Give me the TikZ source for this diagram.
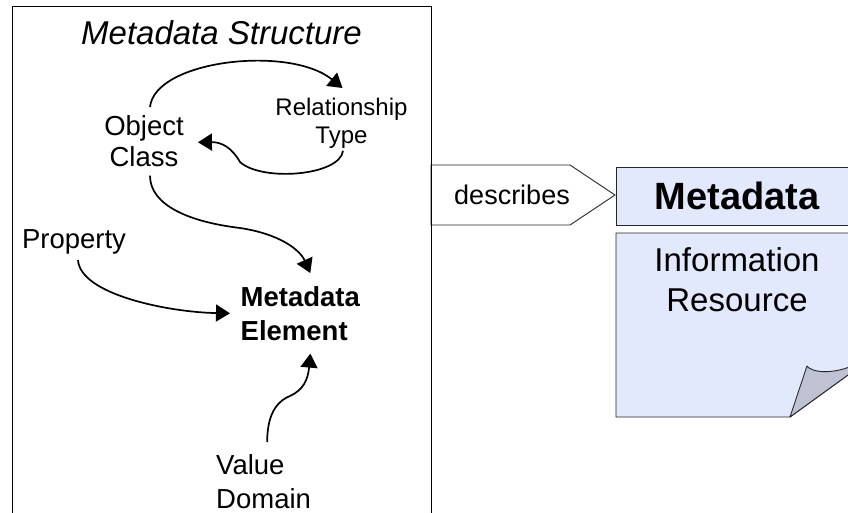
\documentclass[tikz,border=0pt]{standalone}
\usepackage{fontspec}
\setmainfont{Liberation Sans}
\usetikzlibrary{arrows.meta}
\definecolor{paper}{RGB}{227,233,252}
\definecolor{curl}{RGB}{190,194,210}
\begin{document}
\begin{tikzpicture}[x=1pt,y=-1pt,
  lbl/.style={inner sep=0pt, font=\fontsize{27.5}{31}\selectfont},
  link/.style={line width=1.7pt, -{Triangle[length=14pt,width=17pt]}},
  thin/.style={line width=0.9pt, draw=black!85}
]
\useasboundingbox (0,0) rectangle (848,513);
\clip (0,0) rectangle (848,513);

% "describes" arrow shape leaving the structure panel
\draw[thin, fill=white] (431,165) -- (570,165) -- (615,195) -- (570,225) -- (431,225) -- cycle;

% structure panel, open at the bottom
\node[draw, line width=1.2pt, minimum width=419, minimum height=540, inner sep=0, anchor=north west] (frame) at (12,6) {};

\node[lbl, anchor=base, font=\fontsize{33}{40}\selectfont\itshape] (title) at (221.5,45) {Metadata Structure};
\node[lbl, align=center, anchor=north] (oc) at (144,115) {Object\\Class};
\node[lbl, align=center, anchor=north, font=\fontsize{24}{28}\selectfont] (rt) at (341.5,98) {Relationship\\Type};
\node[lbl, anchor=base] (pr) at (74,248) {Property};
\node[lbl, align=left, anchor=north west, font=\fontsize{27.5}{34}\selectfont\bfseries] (me) at (240.5,286.5) {Metadata\\Element};
\node[lbl, align=left, anchor=north west, font=\fontsize{27.5}{34}\selectfont] (vd) at (216,454) {Value\\Domain};

% relations inside the structure
\draw[link] ([shift={(6,-8)}]oc.north) .. controls +(5,-47) and +(-53,-43) .. ([shift={(1,-10)}]rt.north);
\draw[link] ([shift={(1.5,2)}]rt.south) .. controls +(-3,25) and (262,182) .. (240,162)
  .. controls (232,148) and (222,142) .. ([shift={(14,1.5)}]oc.east);
\draw[link] ([shift={(6,9)}]oc.south) .. controls +(0,30) and (190,222) .. (240,228)
  .. controls (280,234) and (300,250) .. ([shift={(10,-13.5)}]me.north);
\draw[link] ([shift={(4,6)}]pr.south) .. controls +(2,35) and +(-60,-1) .. ([shift={(-10.5,-0.5)}]me.west);
\draw[link] ([shift={(3.6,-12)}]vd.north) .. controls +(0,-32) and (280,400) .. (290,396)
  .. controls (303,390) and (308,380) .. ([shift={(10,12.5)}]me.south);

\node[lbl, font=\fontsize{27}{32}\selectfont] (desc) at (512,195) {describes};

% metadata label
\node[thin, fill=paper, minimum width=242, minimum height=58, inner sep=0,
      font=\fontsize{38}{46}\selectfont\bfseries] (md) at (737,196) {Metadata};

% information resource page with curled corner
\draw[thin, fill=paper] (616,233) -- (870,233) -- (870,359) -- (790,417) -- (616,417) -- cycle;
\draw[thin, fill=curl, line join=round] (790,417) -- (807,366)
  .. controls (811,372) and (830,375) .. (852,366) -- (852,372.1) -- cycle;
\node[lbl, align=center, anchor=north, font=\fontsize{33}{40}\selectfont] (ir) at (737,247) {Information\\Resource};
\end{tikzpicture}
\end{document}
